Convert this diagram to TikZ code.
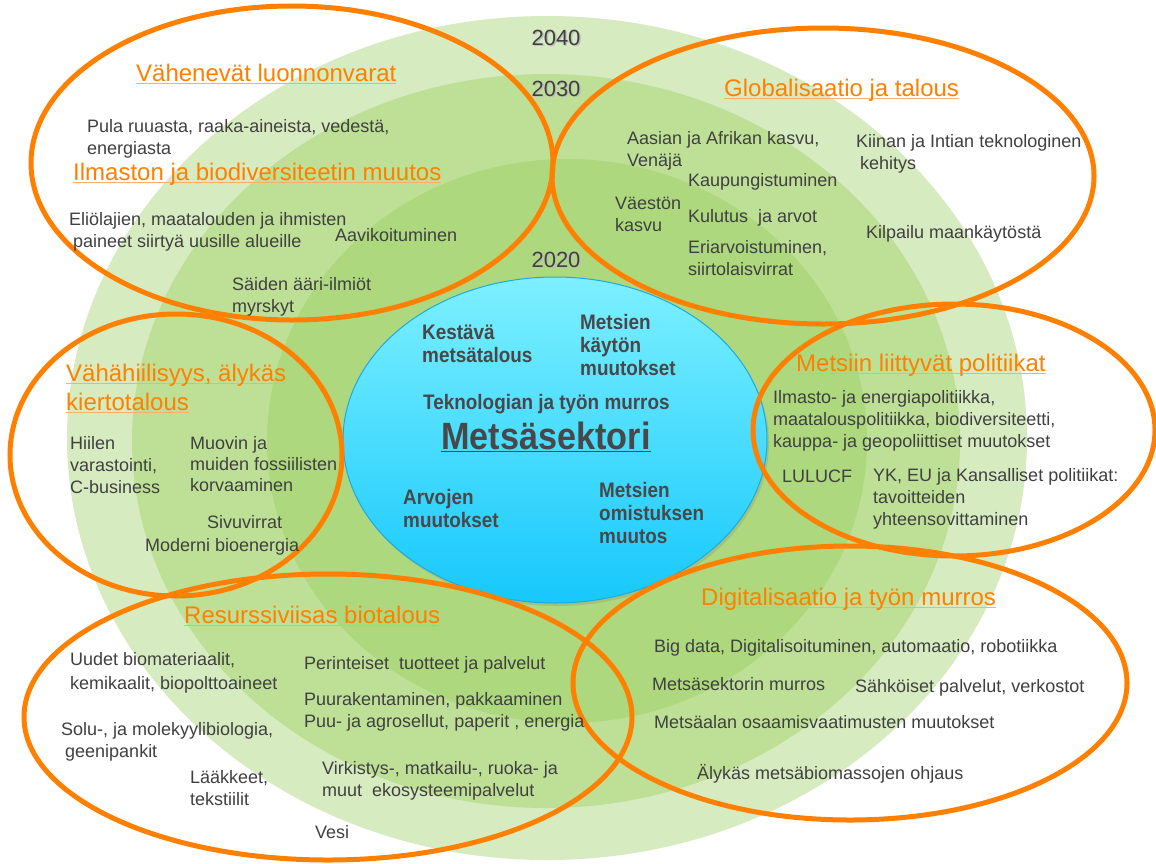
\documentclass[tikz,border=0pt]{standalone}
\usepackage{fontspec}
\setmainfont{Liberation Sans}
\newfontfamily\corefont[FakeStretch=0.9]{Liberation Sans}
\usetikzlibrary{shapes.geometric,shadows,positioning}

\definecolor{bandouter}{RGB}{215,235,192}
\definecolor{bandmid}{RGB}{190,224,150}
\definecolor{bandinner}{RGB}{173,216,125}
\definecolor{coretop}{RGB}{125,240,255}
\definecolor{corebot}{RGB}{22,200,252}
\definecolor{coreedge}{RGB}{30,170,225}
\definecolor{ringorange}{RGB}{255,128,0}
\definecolor{ulorange}{RGB}{250,175,110}
\definecolor{txtgray}{RGB}{64,64,64}
\definecolor{coregray}{RGB}{72,72,72}

\newsavebox\ulbox
\newcommand{\ulined}[2][ulorange]{\sbox\ulbox{#2}\rlap{\textcolor{#1}{\rule[-3pt]{\wd\ulbox}{1pt}}}\usebox\ulbox}
\newcommand{\yearshade}[1]{\rlap{\hspace{1.5pt}\raisebox{-1.8pt}{\textcolor{black!25}{#1}}}#1}

\begin{document}
\begin{tikzpicture}[x=1pt, y=-1pt,
        body/.style={anchor=base west, align=left, inner sep=0pt, text=txtgray, font=\fontsize{18}{22}\selectfont},
        head/.style={anchor=base west, align=left, inner sep=0pt, text=ringorange, font=\fontsize{24}{29}\selectfont},
        coretext/.style={anchor=base west, align=left, inner sep=0pt, text=coregray, font=\corefont\bfseries\fontsize{21}{23}\selectfont},
        year/.style={anchor=base, inner sep=0pt, text=txtgray, font=\fontsize{22}{22}\selectfont},
        ring/.style={draw=ringorange, line width=5pt},
        coreblob/.style={ellipse, inner sep=0pt, minimum width=424pt, minimum height=326pt,
            draw=coreedge, line width=1pt, top color=coretop, bottom color=corebot,
            drop shadow={opacity=0.25, shadow xshift=2pt, shadow yshift=-3pt}}]
        \useasboundingbox (0,0) rectangle (1156,863);
        \fill[white] (0,0) rectangle (1156,863);

        % Bands
        \fill[bandouter] (547,438) ellipse [x radius=480pt, y radius=422pt];
        \fill[bandmid] (546,441) ellipse [x radius=414pt, y radius=367pt];
        \fill[bandinner] (567,441) ellipse [x radius=300pt, y radius=282pt];
        \node (core) [coreblob] at (555,440) {};

        % Rings
        \draw[ring] (292,163) ellipse [x radius=261pt, y radius=157pt];
        \draw[ring] (823,176) ellipse [x radius=271pt, y radius=148pt];
        \draw[ring] (176,455) ellipse [x radius=166pt, y radius=141pt];
        \draw[ring] (954,430) ellipse [x radius=201pt, y radius=126pt];
        \draw[ring] (328,717) ellipse [x radius=304pt, y radius=143pt];
        \draw[ring] (850,683) ellipse [x radius=277pt, y radius=137pt];

        % Years
        \node (y2040) [year] at (556,45) {\yearshade{2040}};
        \node (y2030) [year] at (556,96) {\yearshade{2030}};
        \node (y2020) [year] at (556,267) {\yearshade{2020}};

        % Vahenevat luonnonvarat (multi-line nodes sit on their last line)
        \node (headRes) [head] at (136,81) {\ulined{Vähenevät luonnonvarat}};
        \node (pula) [body] at (87,154) {Pula ruuasta, raaka-aineista, vedestä,\\energiasta};
        \node (headClim) [head] at (73,180) {\ulined{Ilmaston ja biodiversiteetin muutos}};
        \node (elio) [body] at (69,247) {Eliölajien, maatalouden ja ihmisten\\\hspace{4pt}paineet siirtyä uusille alueille};
        \node (aavi) [body] at (335,241) {Aavikoituminen};
        \node (saiden) [body] at (232,312) {Säiden ääri-ilmiöt\\myrskyt};

        % Globalisaatio
        \node (headGlob) [head] at (724,96) {\ulined{Globalisaatio ja talous}};
        \node (aasia) [body] at (627,166) {Aasian ja Afrikan kasvu,\\Venäjä};
        \node (kiina) [body] at (856,169) {Kiinan ja Intian teknologinen\\\hspace{4pt}kehitys};
        \node (kaup) [body] at (688,186) {Kaupungistuminen};
        \node (vaesto) [body] at (615,231) {Väestön\\kasvu};
        \node (kulutus) [body] at (688,222) {Kulutus\ \ ja arvot};
        \node (kilpailu) [body] at (866,238) {Kilpailu maankäytöstä};
        \node (eriarvo) [body] at (688,275) {Eriarvoistuminen,\\siirtolaisvirrat};

        % Vahahiilisyys
        \node (headLow) [head] at (66,410) {\ulined{Vähähiilisyys, älykäs}\\\ulined{kiertotalous}};
        \node (hiilen) [body] at (70,493) {Hiilen\\varastointi,\\C-business};
        \node (muovin) [body, font=\fontsize{18}{21}\selectfont] at (190,491) {Muovin ja\\muiden fossiilisten\\korvaaminen};
        \node (sivu) [body] at (207,528) {Sivuvirrat};
        \node (moderni) [body] at (145,551) {Moderni bioenergia};

        % Metsasektori
        \node (kestava) [coretext] at (422,362) {Kestävä\\metsätalous};
        \node (kaytto) [coretext] at (580,375) {Metsien\\käytön\\muutokset};
        \node (tekno) [coretext] at (423,409) {Teknologian ja työn murros};
        \node (sektori) [anchor=base, inner sep=0pt, text=coregray, font=\corefont\bfseries\fontsize{38}{40}\selectfont]
            at (546,449) {\ulined[coregray]{Metsäsektori}};
        \node (arvojen) [coretext] at (403,527) {Arvojen\\muutokset};
        \node (omistus) [coretext] at (599,543) {Metsien\\omistuksen\\muutos};

        % Politiikat
        \node (headPol) [head] at (796,371) {\ulined{Metsiin liittyvät politiikat}};
        \node (ilmasto) [body] at (773,447) {Ilmasto- ja energiapolitiikka,\\maatalouspolitiikka, biodiversiteetti,\\kauppa- ja geopoliittiset muutokset};
        \node (lulucf) [body] at (782,482) {LULUCF};
        \node (yk) [body] at (873,525) {YK, EU ja Kansalliset politiikat:\\tavoitteiden\\yhteensovittaminen};

        % Resurssiviisas biotalous
        \node (headBio) [head] at (184,623) {\ulined{Resurssiviisas biotalous}};
        \node (uudet) [body, font=\fontsize{18}{24}\selectfont] at (70,689) {Uudet biomateriaalit,\\kemikaalit, biopolttoaineet};
        \node (perint) [body] at (304,669) {Perinteiset\ \ tuotteet ja palvelut};
        \node (puura) [body] at (304,727) {Puurakentaminen, pakkaaminen\\Puu- ja agrosellut, paperit , energia};
        \node (solu) [body] at (61,757) {Solu-, ja molekyylibiologia,\\\hspace{4pt}geenipankit};
        \node (laak) [body] at (190,805) {Lääkkeet,\\tekstiilit};
        \node (virk) [body] at (322,796) {Virkistys-, matkailu-, ruoka- ja\\muut\ \ ekosysteemipalvelut};
        \node (vesi) [body] at (315,838) {Vesi};

        % Digitalisaatio
        \node (headDig) [head] at (701,605) {\ulined{Digitalisaatio ja työn murros}};
        \node (bigdata) [body] at (654,652) {Big data, Digitalisoituminen, automaatio, robotiikka};
        \node (murros) [body] at (652,690) {Metsäsektorin murros};
        \node (sahko) [body] at (855,692) {Sähköiset palvelut, verkostot};
        \node (osaam) [body] at (654,728) {Metsäalan osaamisvaatimusten muutokset};
        \node (alykas) [body] at (697,779) {Älykäs metsäbiomassojen ohjaus};
\end{tikzpicture}
\end{document}
